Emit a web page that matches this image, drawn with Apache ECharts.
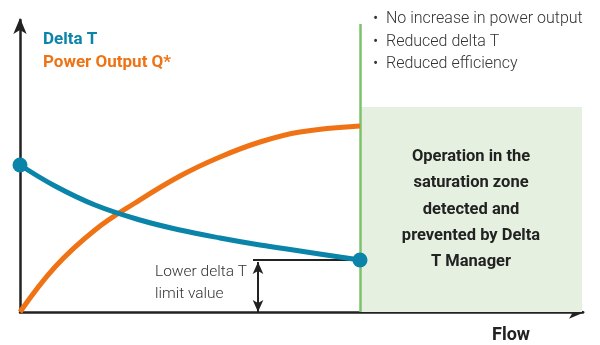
<!DOCTYPE html>
<html><head><meta charset="utf-8">
<script src="https://cdn.jsdelivr.net/npm/echarts@6/dist/echarts.min.js"></script>
<style>html,body{margin:0;padding:0;background:#fff}#c{width:600px;height:345px}</style>
</head><body><div id="c"></div>
<script>
// Flow positions (arbitrary units) and values
const flowDelta = [0, 35, 75, 120, 160, 200, 240, 280, 340];
const deltaT    = [147, 126, 107, 92, 82, 74, 67, 61, 52];
const flowPower = [0, 35, 75, 115, 160, 200, 240, 280, 340];
const powerQ    = [0, 45, 82, 109, 136, 155, 170, 180, 186];
const saturationFlow = 340;
const flowMax = 563;
const yMax = 292;
const boxTop = 205;
const lowerLimit = 52;
const limitArrowFlow = 238;
const limitLineStart = 233;
const bullets = ['No increase in power output', 'Reduced delta T', 'Reduced efficiency'];
const boxText = 'Operation in the\nsaturation zone\ndetected and\nprevented by Delta\nT Manager';

const BLUE = '#0a84a8', ORANGE = '#ef7314', GREEN = '#7cc26a', DARK = '#222';
const chart = echarts.init(document.getElementById('c'));
const font = 'Roboto';
const dT = flowDelta.map((x, i) => [x, deltaT[i]]);
const pQ = flowPower.map((x, i) => [x, powerQ[i]]);

chart.setOption({
  animation: false,
  grid: {left: 20, right: 17, top: 20, bottom: 33},
  xAxis: {type: 'value', min: 0, max: flowMax, splitLine: {show: false}, axisTick: {show: false}, axisLabel: {show: false},
    axisLine: {lineStyle: {color: DARK, width: 2.5}, symbol: ['none', 'arrow'], symbolSize: [10, 16], symbolOffset: [0, 2]}},
  yAxis: {type: 'value', min: 0, max: yMax, splitLine: {show: false}, axisTick: {show: false}, axisLabel: {show: false},
    axisLine: {onZero: false, lineStyle: {color: DARK, width: 2.5}, symbol: ['none', 'arrow'], symbolSize: [10, 16], symbolOffset: [0, 2]}},
  series: [
    {type: 'line', data: [], z: 1,
      markArea: {silent: true, itemStyle: {color: '#e5f0e0'}, data: [[{coord: [saturationFlow, 0]}, {coord: [flowMax - 1, boxTop]}]],
        label: {show: true, position: 'inside', formatter: boxText, fontFamily: font, fontWeight: 'bold', fontSize: 16.5, lineHeight: 26.3, color: '#222', align: 'center'}}},
    {type: 'line', data: [], z: 2,
      markLine: {silent: true, symbol: ['none', 'none'], lineStyle: {color: GREEN, width: 2.5, type: 'solid'}, label: {show: false},
        data: [[{coord: [saturationFlow, 0]}, {coord: [saturationFlow, yMax - 4]}]]}},
    {type: 'line', data: [], z: 3,
      markLine: {silent: true, symbol: ['none', 'none'], lineStyle: {color: DARK, width: 2, type: 'solid'}, label: {show: false},
        data: [[{coord: [limitLineStart, lowerLimit]}, {coord: [saturationFlow, lowerLimit]}]]}},
    {type: 'line', data: [], z: 3,
      markLine: {silent: true, symbol: ['arrow', 'arrow'], symbolSize: [8, 12], lineStyle: {color: DARK, width: 2, type: 'solid'}, label: {show: false},
        data: [[{coord: [limitArrowFlow, 0]}, {coord: [limitArrowFlow, lowerLimit - 2]}]]}},
    {type: 'line', name: 'Power Output Q*', data: pQ, smooth: 0.4, showSymbol: false, z: 5,
      lineStyle: {color: ORANGE, width: 5}, itemStyle: {color: ORANGE}},
    {type: 'line', name: 'Delta T', data: dT, smooth: 0.4, z: 6,
      symbol: 'circle', symbolSize: (v, p) => (p.dataIndex === 0 || p.dataIndex === dT.length - 1) ? 15 : 0,
      showAllSymbol: true,
      lineStyle: {color: BLUE, width: 5}, itemStyle: {color: BLUE}}
  ],
  graphic: [
    {type: 'text', left: 43, top: 31, style: {text: 'Delta T', font: 'bold 17px Roboto', fill: BLUE}},
    {type: 'text', left: 43, top: 54, style: {text: 'Power Output Q*', font: 'bold 17px Roboto', fill: ORANGE}},
    {type: 'text', left: 373, top: 8, style: {text: bullets.map(b => '•  ' + b).join('\n'), font: '300 16px Roboto', fill: '#333', lineHeight: 22.5}},
    {type: 'text', right: 600 - 247, top: 261, style: {text: 'Lower delta T\nlimit value', font: '300 15.5px Roboto', fill: '#333', lineHeight: 22, align: 'right'}},
    {type: 'text', left: 492, top: 326, style: {text: 'Flow', font: 'bold 18px Roboto', fill: '#222'}}
  ]
});
</script></body></html>
